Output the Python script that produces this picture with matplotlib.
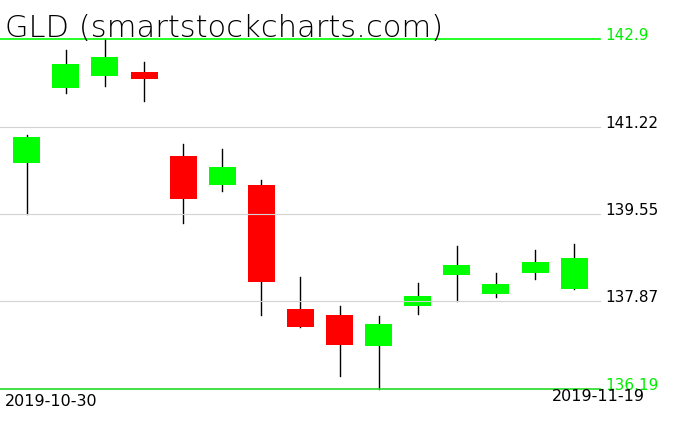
import matplotlib
matplotlib.use("Agg")
import matplotlib.pyplot as plt
from matplotlib.patches import Rectangle

# daily candles for GLD, 2019-10-30 .. 2019-11-19
dates = ["2019-10-30", "2019-10-31", "2019-11-01", "2019-11-04", "2019-11-05",
         "2019-11-06", "2019-11-07", "2019-11-08", "2019-11-11", "2019-11-12",
         "2019-11-13", "2019-11-14", "2019-11-15", "2019-11-18", "2019-11-19"]
opens = [140.53, 141.96, 142.20, 142.27, 140.66, 140.11, 140.10, 137.72,
         137.61, 137.02, 137.79, 138.38, 138.01, 138.41, 138.11]
highs = [141.05, 142.69, 142.90, 142.46, 140.89, 140.79, 140.20, 138.34,
         137.78, 137.59, 138.22, 138.93, 138.41, 138.85, 138.97]
lows = [139.55, 141.87, 142.00, 141.72, 139.37, 139.99, 137.60, 137.37,
        136.43, 136.19, 137.63, 137.88, 137.96, 138.29, 138.10]
closes = [141.02, 142.42, 142.55, 142.14, 139.84, 140.45, 138.25, 137.38,
          137.04, 137.43, 137.97, 138.57, 138.20, 138.62, 138.71]
levels = [142.9, 141.22, 139.55, 137.87, 136.19]
title = "GLD (smartstockcharts.com)"

W, H = 676, 431
fig = plt.figure(figsize=(W / 100, H / 100), dpi=100)
fig.patch.set_facecolor("white")

def fx(px):
    return px / W

def fy(py):
    return 1 - py / H

# plot area: x 0..600 px, y 40..390 px
ax = fig.add_axes([0, fy(390), fx(600), (390 - 40) / H])
ax.set_xlim(-0.683, 14.66)
ax.set_ylim(levels[-1], levels[0])
ax.set_axis_off()

body_w = 0.69
for i in range(len(dates)):
    o, h, l, c = opens[i], highs[i], lows[i], closes[i]
    col = "#00ff00" if c >= o else "#ff0000"
    ax.plot([i, i], [l, h], color="black", lw=1.0, zorder=1, clip_on=False)
    ax.add_patch(Rectangle((i - body_w / 2, min(o, c)), body_w, abs(c - o),
                           facecolor=col, edgecolor="none", zorder=2))

for k, lv in enumerate(levels):
    edge = k == 0 or k == len(levels) - 1
    ax.axhline(lv, color="#00ff00" if k == 0 else ("#22dd22" if edge else "#d3d3d3"),
               lw=1.2 if edge else 0.8, zorder=3, clip_on=False)
    ax.text(1.0 + 5 / 600, lv, f"{lv:g}" if k == 0 else f"{lv:.2f}",
            transform=ax.get_yaxis_transform(), ha="left", va="baseline",
            fontsize=11, color="#00ee00" if edge else "black", clip_on=False)

fig.text(fx(5), fy(37), title, fontsize=22, fontweight="light",
         ha="left", va="baseline", color="black")
fig.text(fx(5), fy(406), dates[0], fontsize=11.5, ha="left", va="baseline")
fig.text(fx(645), fy(401), dates[-1], fontsize=11.5, ha="right", va="baseline")

fig.savefig("out.png", dpi=100, facecolor="white")
